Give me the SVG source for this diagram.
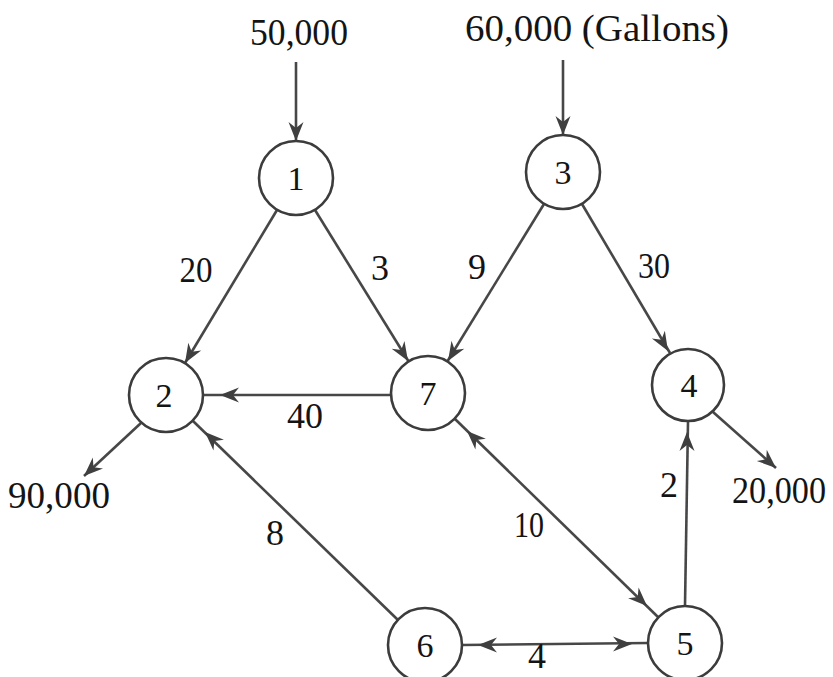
<svg xmlns="http://www.w3.org/2000/svg" width="833" height="677" viewBox="0 0 833 677">
<style>
.node circle{fill:#fff;stroke:#3c3c3c;stroke-width:2.6}
.node text,.lbl{font-family:"Liberation Serif","Times New Roman",serif;fill:#141414;text-anchor:middle}
.node text{font-size:34px}
.lbl{font-size:36px}
.big{font-size:37px}
.edge{stroke:#474747;stroke-width:2.6;fill:none}
.ah{fill:#3f3f3f}
</style>
<defs>
<path id="ah" class="ah" d="M0,0 L-19,-7.5 L-13,0 L-19,7.5 Z"/>
</defs>
<rect width="833" height="677" fill="#fff"/>
<g id="connectors">
<line class="edge" x1="296" y1="62" x2="296" y2="141"/>
<use href="#ah" transform="translate(296,141) rotate(90)"/>
<line class="edge" x1="563" y1="60" x2="563" y2="135"/>
<use href="#ah" transform="translate(563,135) rotate(90)"/>
<line class="edge" x1="277" y1="210" x2="185" y2="363"/>
<use href="#ah" transform="translate(185,363) rotate(120.9)"/>
<line class="edge" x1="315" y1="210" x2="409" y2="362"/>
<use href="#ah" transform="translate(408,361) rotate(58.5)"/>
<line class="edge" x1="544" y1="204" x2="447" y2="362"/>
<use href="#ah" transform="translate(448,361) rotate(121.4)"/>
<line class="edge" x1="582" y1="204" x2="670" y2="353"/>
<use href="#ah" transform="translate(668,351) rotate(59.6)"/>
<line class="edge" x1="391" y1="395" x2="203" y2="395"/>
<use href="#ah" transform="translate(220,395) rotate(180)"/>
<line class="edge" x1="398" y1="620" x2="193" y2="421"/>
<use href="#ah" transform="translate(205,432) rotate(-136)"/>
<line class="edge" x1="455" y1="419" x2="659" y2="618"/>
<use href="#ah" transform="translate(467,431) rotate(-135.8)"/>
<use href="#ah" transform="translate(647,606) rotate(44.2)"/>
<line class="edge" x1="462" y1="645" x2="648" y2="643"/>
<use href="#ah" transform="translate(478,645) rotate(180)"/>
<use href="#ah" transform="translate(632,644) rotate(0)"/>
<line class="edge" x1="685" y1="606" x2="688" y2="422"/>
<use href="#ah" transform="translate(687,432) rotate(-90)"/>
<line class="edge" x1="141" y1="423" x2="84" y2="476"/>
<use href="#ah" transform="translate(84,476) rotate(137)"/>
<line class="edge" x1="713" y1="412" x2="776" y2="468"/>
<use href="#ah" transform="translate(776,468) rotate(41.6)"/>
</g>
<g id="node1" class="node"><circle cx="296" cy="178" r="37"/><text x="296" y="190">1</text></g>
<g id="node3" class="node"><circle cx="563" cy="172" r="37"/><text x="563" y="184">3</text></g>
<g id="node2" class="node"><circle cx="166" cy="395" r="37"/><text x="164" y="407">2</text></g>
<g id="node7" class="node"><circle cx="428" cy="393" r="37"/><text x="428" y="405">7</text></g>
<g id="node4" class="node"><circle cx="688" cy="385" r="36"/><text x="689" y="397">4</text></g>
<g id="node6" class="node"><circle cx="425" cy="645" r="37"/><text x="425" y="657">6</text></g>
<g id="node5" class="node"><circle cx="685" cy="643" r="37"/><text x="685" y="655">5</text></g>
<g id="labels">
<text class="lbl big" x="299" y="45" textLength="98" lengthAdjust="spacingAndGlyphs">50,000</text>
<text class="lbl big" x="597" y="41" textLength="264" lengthAdjust="spacingAndGlyphs">60,000 (Gallons)</text>
<text class="lbl big" x="59" y="508" textLength="102" lengthAdjust="spacingAndGlyphs">90,000</text>
<text class="lbl big" x="779" y="503" textLength="94" lengthAdjust="spacingAndGlyphs">20,000</text>
<text class="lbl" x="196" y="282" textLength="33" lengthAdjust="spacingAndGlyphs">20</text>
<text class="lbl" x="380" y="280">3</text>
<text class="lbl" x="477" y="279">9</text>
<text class="lbl" x="654" y="278" textLength="32" lengthAdjust="spacingAndGlyphs">30</text>
<text class="lbl" x="305" y="428" textLength="36" lengthAdjust="spacingAndGlyphs">40</text>
<text class="lbl" x="275" y="545">8</text>
<text class="lbl" x="529" y="537" textLength="30" lengthAdjust="spacingAndGlyphs">10</text>
<text class="lbl" x="669" y="497">2</text>
<text class="lbl" x="537" y="668" font-size="32">4</text>
</g>
</svg>
